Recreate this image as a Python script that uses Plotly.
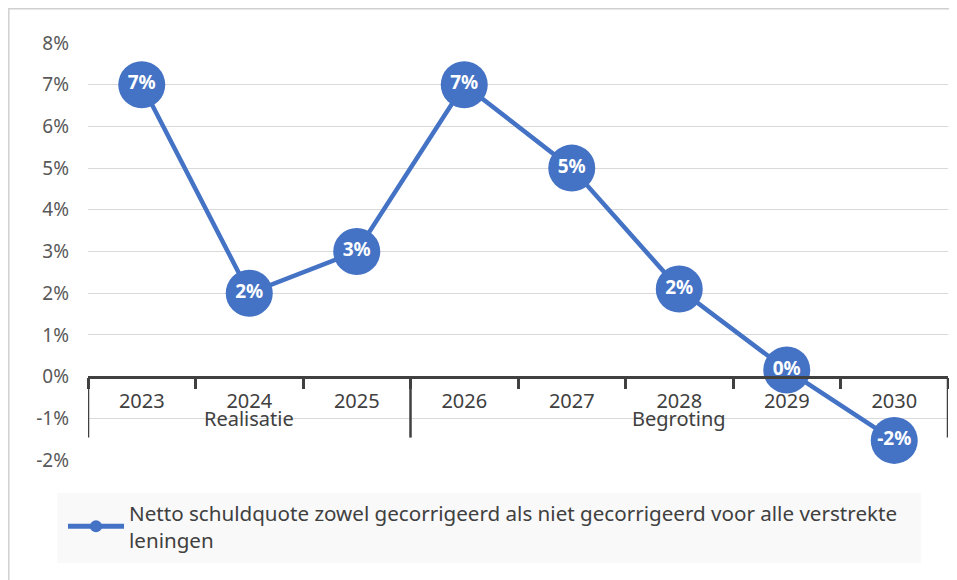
import plotly.graph_objects as go

# ---- data ----
years = ["2023", "2024", "2025", "2026", "2027", "2028", "2029", "2030"]
values = [7.0, 2.0, 3.0, 7.0, 5.0, 2.1, 0.16, -1.53]
value_labels = ["7%", "2%", "3%", "7%", "5%", "2%", "0%", "-2%"]
groups = ["Realisatie", "Begroting"]
group_spans = [(0, 2), (3, 7)]  # category index ranges
y_ticks = [-2, -1, 0, 1, 2, 3, 4, 5, 6, 7, 8]
y_ticktext = ["-2%", "-1%", "0%", "1%", "2%", "3%", "4%", "5%", "6%", "7%", "8%"]
series_name = ("Netto schuldquote zowel gecorrigeerd als niet gecorrigeerd voor alle verstrekte"
               "<br>leningen")

# ---- layout constants (page pixels; page body has an 8px margin) ----
OFF = 8
PAGE_W, PAGE_H = 957, 580
W, H = PAGE_W - OFF, PAGE_H - OFF
PLOT_L, PLOT_R, PLOT_T, PLOT_B = 88, 948, 43, 460   # in page pixels
ML, MT = PLOT_L - OFF, PLOT_T - OFF
MR, MB = W - (PLOT_R - OFF), H - (PLOT_B - OFF)
PW, PH = W - ML - MR, H - MT - MB
YMIN, YMAX = -2, 8
BLUE = "#4472C4"
AXIS = "#404040"
FONT = "Noto Sans"


def px_x(p):  # page pixel -> paper x
    return (p - PLOT_L) / PW


def px_y(p):  # page pixel -> paper y
    return (PLOT_B - p) / PH


fig = go.Figure()
fig.add_trace(go.Scatter(
    x=years, y=values, mode="lines+markers+text",
    name=series_name,
    line=dict(color=BLUE, width=4.5),
    marker=dict(color=BLUE, size=47),
    text=value_labels, textposition="middle center",
    textfont=dict(family=FONT, size=19, color="white", weight="bold"),
    cliponaxis=False,
))

shapes = []
# outer border
shapes.append(dict(type="rect", xref="paper", yref="paper",
                   x0=px_x(OFF + 0.8), x1=px_x(PAGE_W + 20), y0=px_y(PAGE_H + 20), y1=px_y(OFF + 0.8),
                   line=dict(color="#d0d0d0", width=1.5), fillcolor="rgba(0,0,0,0)",
                   layer="below"))
# legend background
shapes.append(dict(type="rect", xref="paper", yref="paper",
                   x0=px_x(57), x1=px_x(921), y0=px_y(563), y1=px_y(493),
                   line=dict(width=0), fillcolor="#f9f9f9", layer="below"))
# group separators
for b in [-0.5, 2.5, 7.5]:
    shapes.append(dict(type="line", xref="x", yref="y", ysizemode="pixel", yanchor=0,
                       x0=b, x1=b, y0=0, y1=-61,
                       line=dict(color=AXIS, width=2.5)))

annotations = []
for g, (a, b) in zip(groups, group_spans):
    annotations.append(dict(x=(a + b) / 2, y=0, xref="x", yref="y", text=g,
                            showarrow=False, yshift=-42, yanchor="middle",
                            font=dict(family=FONT, size=20, color=AXIS)))

fig.update_layout(
    width=W, height=H,
    margin=dict(l=ML, r=MR, t=MT, b=MB, autoexpand=False),
    paper_bgcolor="white", plot_bgcolor="white",
    font=dict(family=FONT, color=AXIS),
    showlegend=True,
    legend=dict(x=px_x(63), y=px_y(493), xanchor="left", yanchor="top",
                bgcolor="rgba(0,0,0,0)", itemsizing="constant", itemwidth=56,
                font=dict(family=FONT, size=20.6, color=AXIS)),
    shapes=shapes, annotations=annotations,
    xaxis=dict(type="category", range=[-0.5, 7.5], anchor="free",
               position=(0 - YMIN) / (YMAX - YMIN),
               showline=True, linecolor=AXIS, linewidth=2.5,
               ticks="outside", tickson="boundaries", ticklen=11, tickwidth=2.5,
               tickcolor=AXIS, showgrid=False,
               tickfont=dict(family=FONT, size=20, color=AXIS),
               ticklabelstandoff=6),
    yaxis=dict(range=[YMIN, YMAX], tickvals=y_ticks, ticktext=y_ticktext,
               showgrid=True, gridcolor="#d9d9d9", gridwidth=1.3,
               zeroline=False, showline=False,
               tickfont=dict(family=FONT, size=19, color="#595959"),
               ticklabelstandoff=18),
)

fig.write_html("out.html")
